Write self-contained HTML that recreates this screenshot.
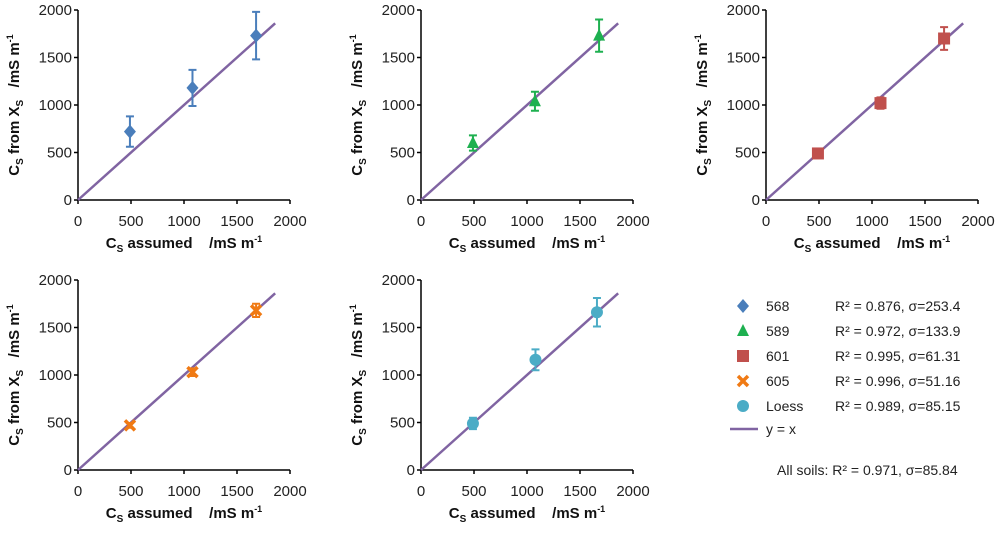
<!DOCTYPE html>
<html><head><meta charset="utf-8"><style>
body{margin:0;background:#fff}
svg{font-family:"Liberation Sans",sans-serif}
.t{font-size:15px;fill:#222}
.ti{font-size:15px;font-weight:bold;fill:#111}
.lg{font-size:14px;fill:#222}
</style></head><body>
<svg id="c" width="1000" height="528" viewBox="0 0 1000 528"></svg>
<script>
const ticks=[0,500,1000,1500,2000];
const tickLabels=["0","500","1000","1500","2000"];
const seriesNames=["568","589","601","605","Loess"];
const xs568=[490,1080,1680], ys568=[720,1180,1730], e568=[160,190,250];
const xs589=[490,1075,1680], ys589=[600,1040,1730], e589=[80,100,170];
const xs601=[490,1080,1680], ys601=[490,1020,1700], e601=[30,60,120];
const xs605=[490,1080,1680], ys605=[470,1030,1680], e605=[25,40,70];
const xsL=[490,1080,1660], ysL=[490,1160,1660], eL=[60,110,150];
const stats=["R² = 0.876, σ=253.4","R² = 0.972, σ=133.9","R² = 0.995, σ=61.31","R² = 0.996, σ=51.16","R² = 0.989, σ=85.15"];
const lineMax=1860;

const svg=document.getElementById('c');const NS='http://www.w3.org/2000/svg';
function mk(tag,attrs,parent,text){const e=document.createElementNS(NS,tag);for(const k in attrs)e.setAttribute(k,attrs[k]);if(text!==undefined)e.textContent=text;(parent||svg).appendChild(e);return e;}
const colors=["#4a7ebb","#1eb050","#c0504d","#f07a14","#4bacc6"];
const panels=[{x0:78,y0:200,d:[xs568,ys568,e568]},{x0:421,y0:200,d:[xs589,ys589,e589]},{x0:766,y0:200,d:[xs601,ys601,e601]},{x0:78,y0:470,d:[xs605,ys605,e605]},{x0:421,y0:470,d:[xsL,ysL,eL]}];
function marker(i,cx,cy,g){const c=colors[i];
 if(i==0){const m=mk('polygon',{points:`${cx},${cy-7} ${cx+6},${cy} ${cx},${cy+7} ${cx-6},${cy}`,fill:c},g);}
 else if(i==1){const m=mk('polygon',{points:`${cx},${cy-7} ${cx+6},${cy+5} ${cx-6},${cy+5}`,fill:c},g);}
 else if(i==2){const m=mk('rect',{x:cx-6,y:cy-6,width:12,height:12,fill:c},g);}
 else if(i==3){const m=mk('path',{d:`M${cx-5},${cy-5}L${cx+5},${cy+5}M${cx+5},${cy-5}L${cx-5},${cy+5}`,stroke:c,'stroke-width':3.5},g);}
 else {const m=mk('circle',{cx:cx,cy:cy,r:6,fill:c},g);}
}
panels.forEach((p,i)=>{
 const W=212,H=190;const sx=v=>p.x0+v/2000*W, sy=v=>p.y0-v/2000*H;
 const g=mk('g',{});
 const ax=mk('path',{d:`M${p.x0},${sy(2000)}V${p.y0}H${sx(2000)}`,stroke:'#000','stroke-width':1.5,fill:'none'},g);
 
 ticks.forEach((t,k)=>{
  mk('line',{x1:sx(t),x2:sx(t),y1:p.y0,y2:p.y0+4,stroke:'#000','stroke-width':1.5},g);
  mk('line',{x1:p.x0-4,x2:p.x0,y1:sy(t),y2:sy(t),stroke:'#000','stroke-width':1.5},g);
  const a=mk('text',{x:sx(t),y:p.y0+26,'text-anchor':'middle',class:'t'},g,tickLabels[k]);
  
  const b=mk('text',{x:p.x0-6,y:sy(t)+5,'text-anchor':'end',class:'t'},g,tickLabels[k]);
  
 });
 const xt=mk('text',{x:p.x0+106,y:p.y0+48,'text-anchor':'middle',class:'ti'},g);
 
 xt.innerHTML='C<tspan dy="4" font-size="10">S</tspan><tspan dy="-4"> assumed &#160;&#160;&#160;/mS m</tspan><tspan dy="-6" font-size="9">-1</tspan>';
 const yt=mk('text',{transform:`translate(${p.x0-59},${p.y0-95}) rotate(-90)`,'text-anchor':'middle',class:'ti'},g);
 
 yt.innerHTML='C<tspan dy="4" font-size="10">S</tspan><tspan dy="-4"> from X</tspan><tspan dy="4" font-size="10">S</tspan><tspan dy="-4"> &#160;&#160;/mS m</tspan><tspan dy="-6" font-size="9">-1</tspan>';
 const l=mk('line',{x1:sx(0),y1:sy(0),x2:sx(lineMax),y2:sy(lineMax),stroke:'#8064a2','stroke-width':2.5},g);
 
 const [X,Y,E]=p.d;
 X.forEach((xv,k)=>{
  const cx=sx(xv),cy=sy(Y[k]),t=sy(Y[k]+E[k]),b=sy(Y[k]-E[k]);
  const eb=mk('path',{d:`M${cx},${t}V${b}M${cx-4},${t}H${cx+4}M${cx-4},${b}H${cx+4}`,stroke:colors[i],'stroke-width':2,fill:'none'},g);
  
  marker(i,cx,cy,g);
 });
});
const lg=mk('g',{});
seriesNames.forEach((n,i)=>{
 const y=306+i*25;
 marker(i,743,y,lg);
 const a=mk('text',{x:766,y:y+5,class:'lg'},lg,n);
 const b=mk('text',{x:835,y:y+5,class:'lg'},lg,stats[i]);
});
const yl=mk('line',{x1:730,x2:758,y1:429,y2:429,stroke:'#8064a2','stroke-width':2.5},lg);

const yx=mk('text',{x:766,y:434,class:'lg'},lg,'y = x');
const al=mk('text',{x:777,y:475,class:'lg'},lg,'All soils:  R² = 0.971, σ=85.84');
</script>
</body></html>
